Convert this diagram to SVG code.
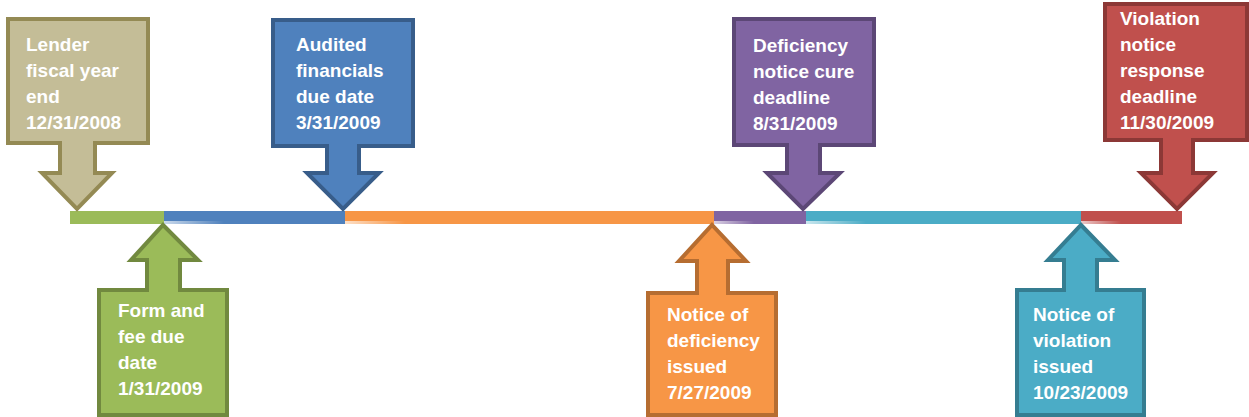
<svg xmlns="http://www.w3.org/2000/svg" width="1249" height="417" viewBox="0 0 1249 417">
<style>
.t{font-family:"Liberation Sans",Arial,sans-serif;font-weight:bold;font-size:19px;fill:#ffffff}
.c{stroke-width:4;stroke-linejoin:miter}
</style>
<defs>
<linearGradient id="hl" x1="0" y1="0" x2="1" y2="0">
<stop offset="0" stop-color="#fff" stop-opacity="0.7"/>
<stop offset="1" stop-color="#fff" stop-opacity="0"/>
</linearGradient>
</defs>
<rect width="1249" height="417" fill="#ffffff"/>
<g id="connectors">
<rect x="70" y="211" width="94" height="13" fill="#9BBB59"/>
<rect x="164" y="211" width="181" height="13" fill="#4F81BD"/>
<rect x="345" y="211" width="369" height="13" fill="#F79646"/>
<rect x="714" y="211" width="92" height="13" fill="#8064A2"/>
<rect x="806" y="211" width="275" height="13" fill="#4BACC6"/>
<rect x="1081" y="211" width="101" height="13" fill="#C0504D"/>
<rect x="164" y="221" width="60" height="3" fill="url(#hl)"/>
<rect x="345" y="221" width="60" height="3" fill="url(#hl)"/>
<rect x="714" y="221" width="40" height="3" fill="url(#hl)"/>
<rect x="806" y="221" width="60" height="3" fill="url(#hl)"/>
<rect x="1081" y="221" width="40" height="3" fill="url(#hl)"/>
</g>
<g id="node-lender">
<path class="c" d="M8,19 H148 V143 H95 V173 H112 L77,209 L42,173 H60 V143 H8 Z" fill="#C4BD97" stroke="#948A54"/>
<text class="t" x="26"><tspan x="26" y="51">Lender</tspan><tspan x="26" y="77">fiscal year</tspan><tspan x="26" y="103">end</tspan><tspan x="26" y="129">12/31/2008</tspan></text>
</g>
<g id="node-audited">
<path class="c" d="M273,20 H413 V146 H359 V173 H379 L343,209 L307,173 H327 V146 H273 Z" fill="#4F81BD" stroke="#385D8A"/>
<text class="t"><tspan x="296" y="51">Audited</tspan><tspan x="296" y="77">financials</tspan><tspan x="296" y="103">due date</tspan><tspan x="296" y="129">3/31/2009</tspan></text>
</g>
<g id="node-deficiency-cure">
<path class="c" d="M734,19 H874 V145 H820 V173 H840 L803,209 L767,173 H787 V145 H734 Z" fill="#8064A2" stroke="#5C4776"/>
<text class="t"><tspan x="753" y="52">Deficiency</tspan><tspan x="753" y="78">notice cure</tspan><tspan x="753" y="104">deadline</tspan><tspan x="753" y="130">8/31/2009</tspan></text>
</g>
<g id="node-violation-response">
<path class="c" d="M1105,4 H1247 V140 H1193 V173 H1213 L1177,209 L1141,173 H1161 V140 H1105 Z" fill="#C0504D" stroke="#8C3836"/>
<text class="t"><tspan x="1120" y="25">Violation</tspan><tspan x="1120" y="51">notice</tspan><tspan x="1120" y="77">response</tspan><tspan x="1120" y="103">deadline</tspan><tspan x="1120" y="129">11/30/2009</tspan></text>
</g>
<g id="node-form-fee">
<path class="c" d="M99,415 H227 V290 H180 V260 H198 L163,225 L131,260 H147 V290 H99 Z" fill="#9BBB59" stroke="#71893F"/>
<text class="t"><tspan x="118" y="317">Form and</tspan><tspan x="118" y="343">fee due</tspan><tspan x="118" y="369">date</tspan><tspan x="118" y="395">1/31/2009</tspan></text>
</g>
<g id="node-deficiency-notice">
<path class="c" d="M648,415 H776 V293 H728 V261 H746 L712,225 L679,261 H697 V293 H648 Z" fill="#F79646" stroke="#B66D31"/>
<text class="t"><tspan x="667" y="321">Notice of</tspan><tspan x="667" y="347">deficiency</tspan><tspan x="667" y="373">issued</tspan><tspan x="667" y="399">7/27/2009</tspan></text>
</g>
<g id="node-violation-notice">
<path class="c" d="M1017,415 H1144 V290 H1097 V260 H1115 L1081,225 L1048,260 H1064 V290 H1017 Z" fill="#4BACC6" stroke="#357D91"/>
<text class="t"><tspan x="1033" y="321">Notice of</tspan><tspan x="1033" y="347">violation</tspan><tspan x="1033" y="373">issued</tspan><tspan x="1033" y="399">10/23/2009</tspan></text>
</g>
</svg>
